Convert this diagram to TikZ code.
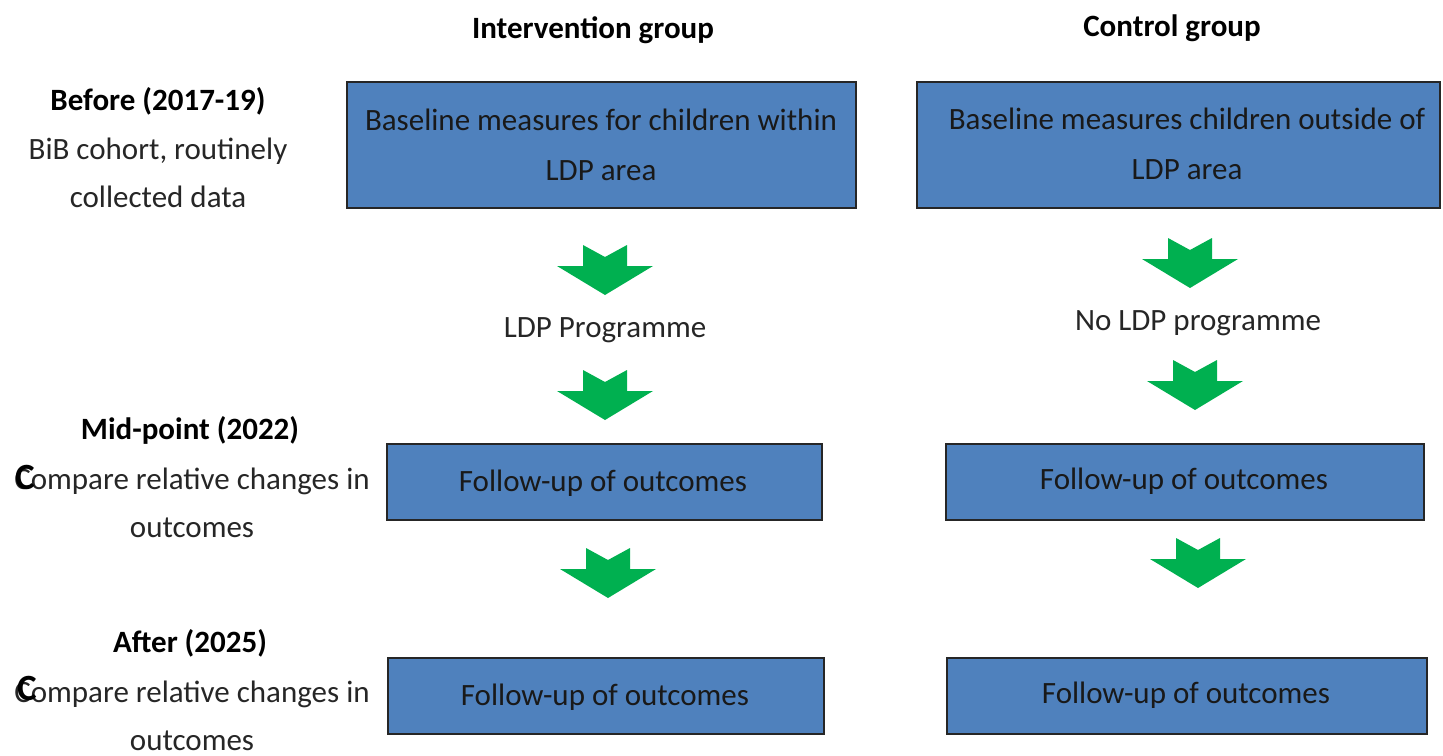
\documentclass[tikz,border=0pt]{standalone}
\usepackage{fontspec}
\setmainfont{Carlito}
\definecolor{boxblue}{HTML}{4F81BD}
\definecolor{arrgreen}{HTML}{00B050}
\tikzset{
  bluebox/.style={draw=black!85, line width=1.5pt, fill=boxblue, inner sep=0pt},
  boxtext/.style={font=\fontsize{31}{50}\selectfont, align=center, text=black!90},
  plain/.style={font=\fontsize{31}{48}\selectfont, align=center, text=black!85},
  head/.style={font=\bfseries\fontsize{31}{48}\selectfont, align=center},
  bigc/.style={font=\bfseries\fontsize{37}{40}\selectfont, inner sep=0pt},
  bigarrow/.pic={\fill[arrgreen] (-22,0) -- (0,12) -- (22,0) -- (22,21) -- (48,21) -- (0,50) -- (-48,21) -- (-22,21) -- cycle;}
}
\begin{document}
\begin{tikzpicture}[x=1pt,y=-1pt]
\useasboundingbox (0,0) rectangle (1443,755);
% boxes
\draw[bluebox] (347,82) rectangle (856,208);
\draw[bluebox] (917,82) rectangle (1440,208);
\draw[bluebox] (387,444) rectangle (822,520);
\draw[bluebox] (946,444) rectangle (1424,520);
\draw[bluebox] (388,658) rectangle (824,734);
\draw[bluebox] (947,658) rectangle (1427,734);
\node[boxtext] (b1) at (601,145) {Baseline measures for children within\\LDP area};
\node[boxtext] (b2) at (1187,144) {Baseline measures children outside of\\LDP area};
\node[boxtext] (b3) at (603,483) {Follow-up of outcomes};
\node[boxtext] (b4) at (1184,481) {Follow-up of outcomes};
\node[boxtext] (b5) at (605,697) {Follow-up of outcomes};
\node[boxtext] (b6) at (1186,695) {Follow-up of outcomes};
% headers
\node[head] (h1) at (593,30) {Intervention group};
\node[head] (h2) at (1172,28) {Control group};
% left labels
\node[head] (l1) at (158,101) {Before (2017-19)};
\node[plain] (l1b) at (158,173) {BiB cohort, routinely\\collected data};
\node[head] (l2) at (190,430) {Mid-point (2022)};
\node[plain] (l2b) at (192,503) {Compare relative changes in\\outcomes};
\node[bigc] (c2) at (25,477) {C};
\node[head] (l3) at (190,643) {After (2025)};
\node[plain] (l3b) at (192,716) {Compare relative changes in\\outcomes};
\node[bigc] (c3) at (27,688) {C};
% middle labels
\node[plain] (m1) at (605,330) {LDP Programme};
\node[plain] (m2) at (1198,323) {No LDP programme};
% arrows
\pic at (605,245) {bigarrow};
\pic at (605,370) {bigarrow};
\pic at (608,548) {bigarrow};
\pic at (1190,238) {bigarrow};
\pic at (1195,360) {bigarrow};
\pic at (1198,538) {bigarrow};
\end{tikzpicture}
\end{document}
